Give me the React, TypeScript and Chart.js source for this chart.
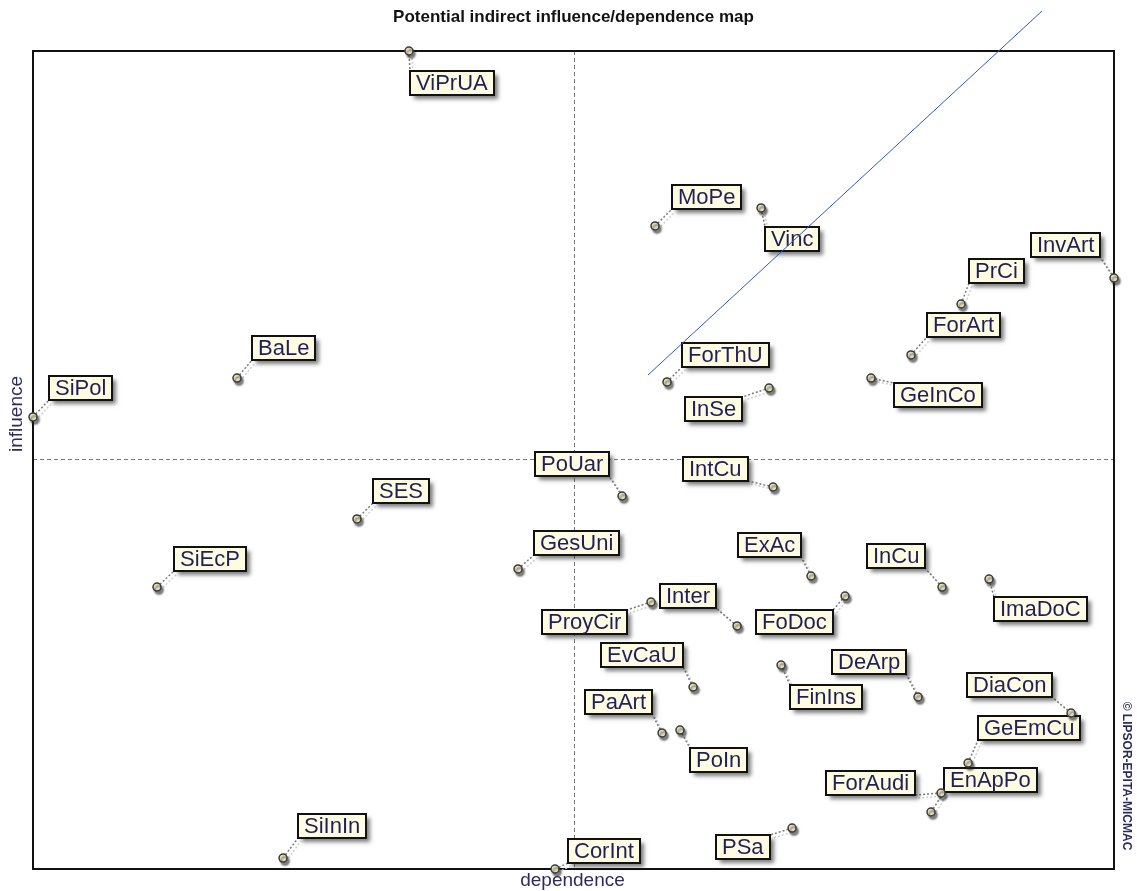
import React, { useEffect, useRef } from "react";
import { Chart, registerables } from "chart.js";

Chart.register(...registerables);

// ---- data ----
const variables = [
  "ViPrUA", "MoPe", "Vinc", "InvArt", "PrCi", "ForArt", "BaLe", "SiPol", "ForThU", "GeInCo",
  "InSe", "PoUar", "IntCu", "SES", "GesUni", "SiEcP", "ExAc", "InCu", "ImaDoC", "ProyCir",
  "Inter", "FoDoc", "EvCaU", "DeArp", "FinIns", "DiaCon", "PaArt", "PoIn", "GeEmCu", "ForAudi",
  "EnApPo", "PSa", "SiInIn", "CorInt",
];
const dependence = [
  347.8, 575.4, 673.5, 1000, 858.5, 812.2, 188.7, 0, 586.5, 775.2,
  680.9, 544.9, 684.6, 299.7, 448.7, 114.7, 719.7, 840.9, 884.4, 571.7,
  651.3, 751.2, 610.6, 818.7, 692.0, 960.3, 581.9, 598.5, 865.0, 840.0,
  830.7, 702.2, 231.3, 482.9,
];
const influence = [
  1000, 786.1, 808.1, 722.5, 690.7, 628.4, 600.2, 552.6, 595.4, 600.2,
  588.0, 456.0, 467.0, 427.9, 366.8, 344.7, 358.2, 344.7, 354.5, 326.4,
  297.1, 333.7, 222.5, 210.3, 249.4, 190.7, 166.3, 169.9, 129.6, 92.9,
  69.7, 50.1, 13.4, 0,
];
// label box corner relative to its point (px) and which corner it is (t/b + l/r)
const labelAnchors: [number, number, string][] = [
  [1, 20, "tl"], [17, -17, "bl"], [4, 19, "tl"], [-14, -21, "br"], [8, -21, "bl"],
  [16, -18, "bl"], [15, -18, "bl"], [16, -17, "bl"], [15, -15, "bl"], [23, 5, "tl"],
  [-27, 9, "tr"], [-13, -20, "br"], [-25, -6, "br"], [16, -16, "bl"], [16, -14, "bl"],
  [17, -16, "bl"], [-10, -19, "br"], [-17, -19, "br"], [5, 18, "tl"], [-24, 8, "tr"],
  [-21, -18, "br"], [-12, 14, "tr"], [-10, -20, "br"], [-12, -23, "br"], [9, 20, "tl"],
  [-19, -16, "br"], [-10, -19, "br"], [10, 18, "tl"], [10, -23, "bl"], [-26, 2, "br"],
  [13, -20, "bl"], [-22, 7, "tr"], [15, -20, "bl"], [13, -6, "bl"],
];
const meanDependence = 500;
const meanInfluence = 501;
const diagonalDependence = [568.9, 933.4];
const diagonalInfluence = [603.9, 1048.9];

const chartTitle = "Potential indirect influence/dependence map";
const xTitle = "dependence";
const yTitle = "influence";
const copyright = "© LIPSOR-EPITA-MICMAC";

const FONT = '"Liberation Sans", Arial, Helvetica, sans-serif';

const mapPlugin = {
  id: "micmacMap",
  beforeDatasetsDraw(chart: any) {
    const { ctx, chartArea: a, scales } = chart;
    const xs = scales.x;
    const ys = scales.y;
    ctx.save();
    // mean (dashed) lines
    ctx.strokeStyle = "#7a7a7a";
    ctx.lineWidth = 1;
    ctx.setLineDash([4, 3]);
    const mx = Math.round(xs.getPixelForValue(meanDependence)) + 0.5;
    const my = Math.round(ys.getPixelForValue(meanInfluence)) + 0.5;
    ctx.beginPath();
    ctx.moveTo(mx, a.top);
    ctx.lineTo(mx, a.bottom);
    ctx.moveTo(a.left, my);
    ctx.lineTo(a.right, my);
    ctx.stroke();
    // frame
    ctx.setLineDash([]);
    ctx.strokeStyle = "#111";
    ctx.lineWidth = 2;
    ctx.strokeRect(a.left, a.top, a.right - a.left, a.bottom - a.top);

    // leaders
    ctx.lineWidth = 1.5;
    ctx.setLineDash([2, 2]);
    variables.forEach((_, i) => {
      const px = xs.getPixelForValue(dependence[i]);
      const py = ys.getPixelForValue(influence[i]);
      const [dx, dy] = labelAnchors[i];
      ctx.strokeStyle = "#cfcfcf";
      ctx.beginPath();
      ctx.moveTo(px + 3, py + 3);
      ctx.lineTo(px + dx + 3, py + dy + 3);
      ctx.stroke();
      ctx.strokeStyle = "#7c7c7c";
      ctx.beginPath();
      ctx.moveTo(px, py);
      ctx.lineTo(px + dx, py + dy);
      ctx.stroke();
    });
    ctx.setLineDash([]);

    // label boxes
    ctx.font = `22px ${FONT}`;
    ctx.textBaseline = "middle";
    ctx.textAlign = "left";
    variables.forEach((name, i) => {
      const px = xs.getPixelForValue(dependence[i]);
      const py = ys.getPixelForValue(influence[i]);
      const [dx, dy, anc] = labelAnchors[i];
      const ax = Math.round(px + dx);
      const ay = Math.round(py + dy);
      const tw = ctx.measureText(name).width;
      const w = Math.round(tw + 12);
      const h = 24;
      const left = anc[1] === "l" ? ax : ax - w;
      const top = anc[0] === "t" ? ay : ay - h;
      ctx.save();
      ctx.shadowColor = "rgba(40,40,40,0.6)";
      ctx.shadowBlur = 4;
      ctx.shadowOffsetX = 4;
      ctx.shadowOffsetY = 4;
      ctx.fillStyle = "#fdfbe2";
      ctx.fillRect(left, top, w, h);
      ctx.restore();
      ctx.strokeStyle = "#111";
      ctx.lineWidth = 2;
      ctx.strokeRect(left, top, w, h);
      ctx.fillStyle = "#221f58";
      ctx.fillText(name, left + 6, top + h / 2 + 1);
    });
    ctx.restore();
  },
  beforeDatasetDraw(chart: any, args: any) {
    if (args.index === 0) {
      const ctx = chart.ctx;
      ctx.save();
      ctx.shadowColor = "rgba(30,30,30,0.55)";
      ctx.shadowBlur = 2;
      ctx.shadowOffsetX = 2;
      ctx.shadowOffsetY = 3;
    }
  },
  afterDatasetDraw(chart: any, args: any) {
    if (args.index === 0) chart.ctx.restore();
  },
  afterDraw(chart: any) {
    const { ctx, chartArea: a } = chart;
    const cx = (a.left + a.right) / 2;
    ctx.save();
    ctx.textAlign = "center";
    ctx.textBaseline = "middle";
    ctx.fillStyle = "#121212";
    ctx.font = `bold 17px ${FONT}`;
    ctx.fillText(chartTitle, cx, 17);
    ctx.fillStyle = "#2c2c5c";
    ctx.font = `19px ${FONT}`;
    ctx.fillText(xTitle, cx - 1, a.bottom + 12);
    ctx.save();
    ctx.translate(17, 414);
    ctx.rotate(-Math.PI / 2);
    ctx.fillText(yTitle, 0, 0);
    ctx.restore();
    ctx.save();
    ctx.translate(1126, 776);
    ctx.rotate(Math.PI / 2);
    ctx.font = `bold 12px ${FONT}`;
    ctx.fillText(copyright, 0, 0);
    ctx.restore();
    ctx.restore();
  },
};

export default function App() {
  const ref = useRef<HTMLCanvasElement | null>(null);
  useEffect(() => {
    if (!ref.current) return;
    const chart = new Chart(ref.current, {
      type: "scatter",
      data: {
        datasets: [
          {
            label: "variables",
            data: variables.map((_, i) => ({ x: dependence[i], y: influence[i] })),
            pointRadius: 4,
            pointBackgroundColor: "#e6e4c0",
            pointBorderColor: "#3a3a3a",
            pointBorderWidth: 1.5,
            clip: false,
            order: 1,
          } as any,
          {
            label: "diagonal",
            data: diagonalDependence.map((x, i) => ({ x, y: diagonalInfluence[i] })),
            showLine: true,
            borderColor: "#2d5cc0",
            borderWidth: 1,
            pointRadius: 0,
            clip: false,
            order: 0,
          } as any,
        ],
      },
      options: {
        animation: false,
        responsive: false,
        devicePixelRatio: 1,
        layout: { padding: { left: 33, top: 51, right: 23, bottom: 22 } },
        scales: {
          x: { type: "linear", min: 0, max: 1000, display: false },
          y: { type: "linear", min: 0, max: 1000, display: false },
        },
        plugins: { legend: { display: false }, tooltip: { enabled: false } },
      },
      plugins: [mapPlugin],
    });
    return () => chart.destroy();
  }, []);
  return (
    <div style={{ position: "fixed", left: 0, top: 0, width: 1137, height: 891, background: "#fff" }}>
      <canvas ref={ref} width={1137} height={891} style={{ width: 1137, height: 891, display: "block" }} />
    </div>
  );
}
